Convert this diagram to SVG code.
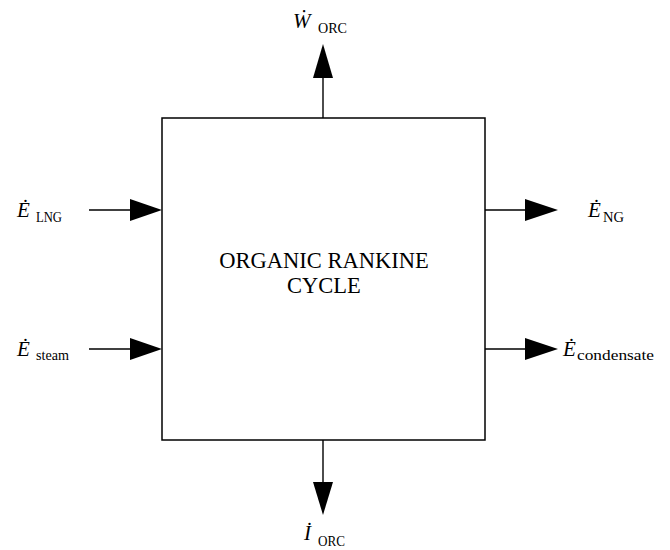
<svg xmlns="http://www.w3.org/2000/svg" width="670" height="550" viewBox="0 0 670 550">
<style>
.ln{stroke:#000;stroke-width:1.4;fill:none}
.ah{fill:#000}
text{font-family:'Liberation Serif','Times New Roman',Tinos,'DejaVu Serif','Noto Serif',serif;fill:#000}
.v{font-style:italic;font-size:21px}
.s{font-size:15px}
.t{font-size:22.5px}
</style>
<rect width="670" height="550" fill="#fff"/>
<g id="orc">
<rect x="162" y="118" width="323" height="322" fill="#fff" stroke="#000" stroke-width="1.5"/>
<text class="t" x="324" y="268" text-anchor="middle">ORGANIC RANKINE</text>
<text class="t" x="324" y="293" text-anchor="middle">CYCLE</text>
</g>
<g id="connectors">
<line class="ln" x1="323" y1="118" x2="323" y2="78"/>
<polygon class="ah" points="313,78 333,78 323,44"/>
<line class="ln" x1="89" y1="210" x2="131" y2="210"/>
<polygon class="ah" points="130,199 130,221 162,210"/>
<line class="ln" x1="89" y1="349" x2="131" y2="349"/>
<polygon class="ah" points="130,338 130,360 162,349"/>
<line class="ln" x1="485" y1="210" x2="526" y2="210"/>
<polygon class="ah" points="525,199 525,221 558,210"/>
<line class="ln" x1="485" y1="349" x2="526" y2="349"/>
<polygon class="ah" points="525,338 525,360 558,349"/>
<line class="ln" x1="323" y1="440" x2="323" y2="482"/>
<polygon class="ah" points="313,482 333,482 323,515"/>
</g>
<g id="w-orc"><text x="293" y="28"><tspan class="v">Ẇ</tspan><tspan class="s" x="318" dy="5" textLength="29" lengthAdjust="spacingAndGlyphs">ORC</tspan></text></g>
<g id="e-lng"><text x="17" y="217"><tspan class="v">Ė</tspan><tspan class="s" x="36" dy="5" textLength="26" lengthAdjust="spacingAndGlyphs">LNG</tspan></text></g>
<g id="e-steam"><text x="17" y="356"><tspan class="v">Ė</tspan><tspan class="s" x="36" dy="4" textLength="33" lengthAdjust="spacingAndGlyphs">steam</tspan></text></g>
<g id="e-ng"><text x="588" y="217"><tspan class="v">Ė</tspan><tspan class="s" x="603" dy="5" textLength="21" lengthAdjust="spacingAndGlyphs">NG</tspan></text></g>
<g id="e-condensate"><text x="563" y="356"><tspan class="v">Ė</tspan><tspan class="s" x="577" dy="4" textLength="77" lengthAdjust="spacingAndGlyphs">condensate</tspan></text></g>
<g id="i-orc"><text x="304" y="540"><tspan class="v">İ</tspan><tspan class="s" x="318" dy="6" textLength="27" lengthAdjust="spacingAndGlyphs">ORC</tspan></text></g>
</svg>
